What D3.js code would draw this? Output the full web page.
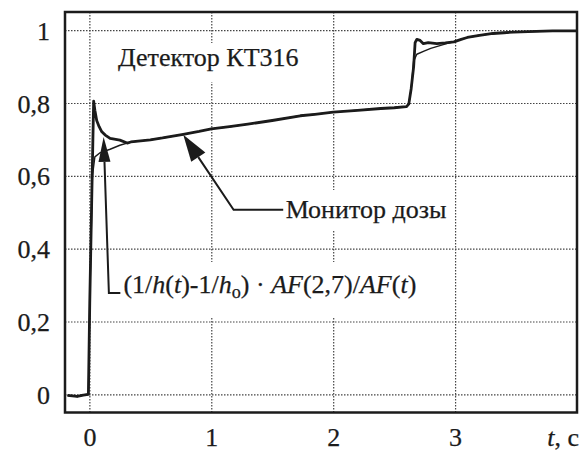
<!DOCTYPE html>
<html>
<head>
<meta charset="utf-8">
<script src="https://cdn.jsdelivr.net/npm/d3@7"></script>
<style>
  body { margin: 0; background: #fff; }
  svg { display: block; }
  text { font-family: "Liberation Serif", "Times New Roman", serif; fill: #1b1b1b; stroke: #1b1b1b; stroke-width: 0.25; }
</style>
</head>
<body>
<svg id="chart" width="586" height="451"></svg>
<script>
// Axis ticks
const xTicks = [0, 1, 2, 3];
const yTicks = [0, 0.2, 0.4, 0.6, 0.8, 1];
const yTickLabels = ["0", "0,2", "0,4", "0,6", "0,8", "1"];

// Dose monitor signal (thick curve)
const monitorT = [-0.18, -0.1, -0.05, -0.008, 0.003, 0.02, 0.03, 0.035, 0.045, 0.06, 0.08, 0.1, 0.13, 0.17, 0.25, 0.31, 0.34, 0.42, 0.5, 0.6, 0.77, 0.9, 1.0, 1.15, 1.3, 1.5, 1.73, 1.85, 2.0, 2.2, 2.39, 2.5, 2.6, 2.62, 2.64, 2.66, 2.672, 2.686, 2.713, 2.74, 2.78, 2.85, 2.92, 2.99, 3.05, 3.1, 3.2, 3.31, 3.4, 3.48, 3.6, 3.8, 4.0];
const monitorV = [-0.003, -0.006, -0.002, 0.0, 0.25, 0.55, 0.72, 0.805, 0.78, 0.752, 0.735, 0.722, 0.712, 0.703, 0.698, 0.69, 0.693, 0.696, 0.699, 0.704, 0.714, 0.722, 0.729, 0.735, 0.742, 0.752, 0.765, 0.769, 0.775, 0.78, 0.785, 0.787, 0.79, 0.797, 0.84, 0.9, 0.966, 0.975, 0.972, 0.963, 0.966, 0.963, 0.965, 0.968, 0.975, 0.98, 0.986, 0.991, 0.993, 0.995, 0.996, 0.998, 0.998];

// (1/h(t)-1/h0)·AF(2,7)/AF(t) (thin curve)
const ratioT = [-0.18, -0.1, -0.05, -0.008, 0.003, 0.025, 0.045, 0.09, 0.17, 0.25, 0.33, 0.42, 0.5, 0.6, 0.77, 0.9, 1.0, 1.15, 1.3, 1.5, 1.73, 1.85, 2.0, 2.2, 2.39, 2.5, 2.6, 2.62, 2.64, 2.66, 2.686, 2.75, 2.8, 2.93, 2.99, 3.05, 3.1, 3.2, 3.31, 3.4, 3.48, 3.6, 3.8, 4.0];
const ratioV = [-0.003, -0.006, -0.002, 0.0, 0.25, 0.6, 0.652, 0.664, 0.673, 0.684, 0.692, 0.696, 0.699, 0.704, 0.714, 0.722, 0.729, 0.735, 0.742, 0.752, 0.765, 0.769, 0.775, 0.78, 0.785, 0.787, 0.79, 0.797, 0.84, 0.915, 0.934, 0.943, 0.95, 0.963, 0.968, 0.975, 0.98, 0.986, 0.991, 0.993, 0.995, 0.996, 0.998, 0.998];

const svg = d3.select("#chart");
const x = d3.scaleLinear().domain([-0.2, 4.0]).range([65, 577]);
const y = d3.scaleLinear().domain([-0.05, 1.05]).range([412.5, 12]);
const [x0, x1] = x.range();
const [y0, y1] = y.range();
const FS = 26;

// Dotted grid
const grid = svg.append("g");
grid.append("g")
  .attr("transform", `translate(0,${y0})`)
  .call(d3.axisBottom(x).tickValues(xTicks).tickSize(-(y0 - y1)).tickFormat(""))
  .call(g => g.select(".domain").remove());
grid.append("g")
  .attr("transform", `translate(${x0},0)`)
  .call(d3.axisLeft(y).tickValues(yTicks).tickSize(-(x1 - x0)).tickFormat(""))
  .call(g => g.select(".domain").remove());
grid.selectAll(".tick line")
  .attr("stroke", "#444").attr("stroke-width", 1.2).attr("stroke-dasharray", "1.5,1.5");

// White knock-out boxes behind annotation text
const boxes = [[112, 43, 196, 39], [283, 190, 170, 40], [120, 262, 305, 56]];
svg.append("g").selectAll("rect").data(boxes).join("rect")
  .attr("x", d => d[0]).attr("y", d => d[1]).attr("width", d => d[2]).attr("height", d => d[3])
  .attr("fill", "#fff");

// Curves
const line = d3.line().x(d => x(d[0])).y(d => y(d[1]));
const monitor = monitorT.map((t, i) => [t, monitorV[i]]);
const ratio = ratioT.map((t, i) => [t, ratioV[i]]);
svg.append("path").datum(ratio).attr("d", line)
  .attr("fill", "none").attr("stroke", "#1b1b1b").attr("stroke-width", 1.4).attr("stroke-linejoin", "round");
svg.append("path").datum(monitor).attr("d", line)
  .attr("fill", "none").attr("stroke", "#1b1b1b").attr("stroke-width", 2.8).attr("stroke-linejoin", "round");

// Plot frame
svg.append("rect").attr("x", x0).attr("y", y1).attr("width", x1 - x0).attr("height", y0 - y1)
  .attr("fill", "none").attr("stroke", "#1b1b1b").attr("stroke-width", 2.5);

// Axis labels
const yAxis = svg.append("g")
  .attr("transform", `translate(50,0)`)
  .call(d3.axisLeft(y).tickValues(yTicks).tickSize(0).tickPadding(0)
    .tickFormat((d, i) => yTickLabels[i]));
yAxis.select(".domain").remove();
yAxis.selectAll("text").attr("font-size", FS).attr("font-family", null).attr("dy", "0.35em").attr("fill", "#1b1b1b");

const xAxis = svg.append("g")
  .attr("transform", `translate(0,${y0})`)
  .call(d3.axisBottom(x).tickValues(xTicks).tickSize(0).tickPadding(0).tickFormat(d3.format("d")));
xAxis.select(".domain").remove();
xAxis.selectAll("text").attr("font-size", FS).attr("font-family", null).attr("y", 33).attr("dy", 0).attr("fill", "#1b1b1b");

const tLabel = svg.append("text").attr("x", 579).attr("y", 446).attr("text-anchor", "end").attr("font-size", FS);
tLabel.append("tspan").attr("font-style", "italic").text("t");
tLabel.append("tspan").text(", c");

// Title inside the plot
svg.append("text").attr("x", 118).attr("y", 66).attr("font-size", FS).text("Детектор КТ316");

// Leader arrows (anchors in data units)
function arrow(tip, elbow, end, headLen, headW) {
  const p = [x(tip[0]), y(tip[1])];
  const e = [x(elbow[0]), y(elbow[1])];
  const f = [x(end[0]), y(end[1])];
  const dx = e[0] - p[0], dy = e[1] - p[1], L = Math.hypot(dx, dy);
  const ux = dx / L, uy = dy / L;
  const b = [p[0] + ux * headLen, p[1] + uy * headLen];
  svg.append("path").attr("d", d3.line()([b, e, f]))
    .attr("fill", "none").attr("stroke", "#1b1b1b").attr("stroke-width", 2);
  svg.append("path")
    .attr("d", d3.line()([p, [b[0] - uy * headW / 2, b[1] + ux * headW / 2], [b[0] + uy * headW / 2, b[1] - ux * headW / 2]]) + "Z")
    .attr("fill", "#1b1b1b");
}
arrow([0.77, 0.713], [1.183, 0.507], [1.59, 0.507], 27, 17);
arrow([0.117, 0.707], [0.16, 0.278], [0.254, 0.278], 25, 12);

svg.append("text").attr("x", x(1.61)).attr("y", 218).attr("font-size", FS).text("Монитор дозы");

const f = svg.append("text").attr("x", x(0.279)).attr("y", 293).attr("font-size", FS);
const parts = [["(1/", 0], ["h", 1], ["(", 0], ["t", 1], [")-1/", 0], ["h", 1], ["o", 2], [") · ", 0], ["AF", 1], ["(2,7)/", 0], ["AF", 1], ["(", 0], ["t", 1], [")", 0]];
let prevSub = false;
parts.forEach(([s, k]) => {
  const ts = f.append("tspan").text(s);
  if (k === 1) ts.attr("font-style", "italic");
  if (k === 2) { ts.attr("font-size", FS * 0.7).attr("dy", 5); prevSub = true; }
  else if (prevSub) { ts.attr("dy", -5); prevSub = false; }
});
</script>
</body>
</html>
